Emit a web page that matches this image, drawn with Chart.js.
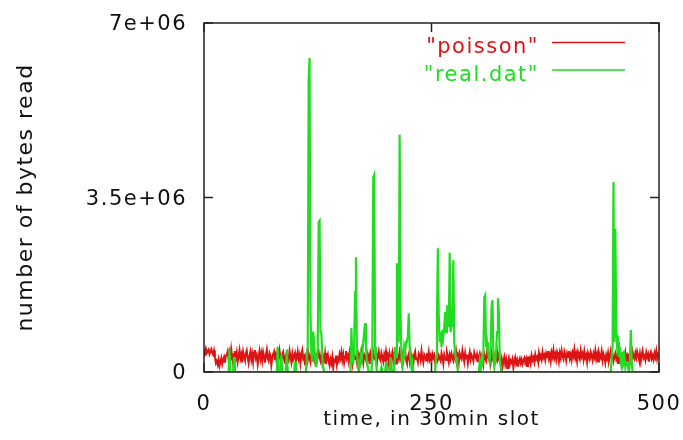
<!DOCTYPE html>
<html>
<head>
<meta charset="utf-8">
<script src="https://cdn.jsdelivr.net/npm/chart.js@4/dist/chart.umd.min.js"></script>
<style>
  html, body { margin: 0; padding: 0; background: #fff; }
</style>
</head>
<body>
<canvas id="chart" width="683" height="440"></canvas>
<script>
// x ticks (time slots) and y ticks (bytes)
const xTicks = [0, 250, 500];
const yTicks = [0, 3.5e6, 7e6];

// "poisson": one value per 30min slot, 0..500
const poissonBytes = [
  44e4,40e4,47e4,38e4,42e4,45e4,36e4,41e4,46e4,39e4,35e4,43e4,30e4,18e4,22e4,15e4,25e4,12e4,20e4,28e4,16e4,24e4,30e4,19e4,33e4,
  34e4,41e4,26e4,38e4,22e4,45e4,31e4,17e4,36e4,42e4,28e4,39e4,21e4,33e4,44e4,27e4,35e4,19e4,40e4,30e4,24e4,37e4,43e4,29e4,18e4,
  32e4,41e4,25e4,36e4,20e4,39e4,44e4,28e4,34e4,16e4,30e4,42e4,26e4,37e4,23e4,40e4,31e4,19e4,35e4,45e4,27e4,22e4,38e4,33e4,14e4,
  29e4,36e4,41e4,24e4,33e4,18e4,38e4,27e4,43e4,30e4,21e4,35e4,40e4,26e4,17e4,34e4,39e4,28e4,23e4,42e4,31e4,20e4,37e4,25e4,32e4,
  38e4,22e4,29e4,41e4,26e4,34e4,18e4,36e4,44e4,27e4,31e4,15e4,33e4,40e4,24e4,37e4,29e4,20e4,35e4,42e4,26e4,30e4,17e4,38e4,23e4,
  34e4,41e4,28e4,22e4,36e4,19e4,31e4,25e4,38e4,16e4,29e4,35e4,21e4,13e4,26e4,18e4,30e4,9e4,24e4,20e4,33e4,15e4,27e4,22e4,36e4,
  28e4,40e4,24e4,35e4,19e4,31e4,42e4,27e4,33e4,21e4,38e4,25e4,30e4,17e4,36e4,43e4,26e4,32e4,20e4,39e4,28e4,34e4,23e4,41e4,29e4,
  18e4,35e4,30e4,24e4,39e4,27e4,33e4,16e4,37e4,29e4,22e4,40e4,31e4,25e4,36e4,19e4,34e4,42e4,27e4,23e4,38e4,30e4,21e4,35e4,26e4,
  41e4,28e4,33e4,19e4,36e4,24e4,30e4,39e4,22e4,34e4,27e4,17e4,37e4,31e4,25e4,40e4,29e4,20e4,35e4,26e4,32e4,43e4,24e4,18e4,30e4,
  36e4,22e4,39e4,27e4,31e4,15e4,34e4,41e4,26e4,29e4,20e4,37e4,33e4,24e4,42e4,28e4,19e4,35e4,31e4,23e4,38e4,27e4,40e4,25e4,32e4,
  21e4,36e4,29e4,34e4,18e4,31e4,40e4,25e4,33e4,27e4,22e4,38e4,30e4,17e4,35e4,28e4,24e4,39e4,31e4,20e4,34e4,26e4,37e4,29e4,23e4,
  36e4,28e4,41e4,24e4,32e4,19e4,37e4,30e4,26e4,43e4,33e4,21e4,38e4,27e4,35e4,18e4,31e4,40e4,25e4,34e4,29e4,22e4,39e4,32e4,27e4,
  35e4,20e4,30e4,37e4,24e4,33e4,28e4,16e4,36e4,29e4,23e4,40e4,31e4,26e4,34e4,19e4,38e4,27e4,32e4,22e4,35e4,28e4,41e4,25e4,30e4,
  24e4,18e4,27e4,10e4,22e4,30e4,16e4,25e4,8e4,20e4,28e4,15e4,23e4,19e4,26e4,9e4,21e4,29e4,17e4,24e4,11e4,22e4,27e4,18e4,25e4,
  16e4,23e4,28e4,19e4,26e4,12e4,31e4,21e4,27e4,17e4,33e4,24e4,29e4,20e4,35e4,26e4,30e4,22e4,38e4,27e4,33e4,25e4,40e4,29e4,34e4,
  24e4,37e4,30e4,42e4,27e4,35e4,22e4,39e4,31e4,44e4,28e4,36e4,25e4,40e4,33e4,21e4,38e4,29e4,43e4,32e4,26e4,41e4,34e4,23e4,37e4,
  30e4,42e4,27e4,35e4,24e4,39e4,32e4,45e4,28e4,36e4,22e4,40e4,33e4,26e4,43e4,31e4,37e4,25e4,41e4,29e4,34e4,20e4,38e4,31e4,27e4,
  40e4,33e4,24e4,37e4,30e4,43e4,26e4,35e4,21e4,39e4,32e4,28e4,41e4,24e4,36e4,30e4,19e4,34e4,27e4,38e4,23e4,31e4,42e4,29e4,35e4,
  22e4,30e4,37e4,26e4,33e4,18e4,29e4,36e4,24e4,31e4,20e4,34e4,27e4,39e4,25e4,32e4,21e4,37e4,28e4,35e4,24e4,40e4,30e4,26e4,38e4,
  29e4,41e4,33e4,25e4,37e4,22e4,35e4,43e4,28e4,32e4,24e4,39e4,30e4,36e4,21e4,34e4,40e4,27e4,33e4,25e4,38e4,30e4,42e4,26e4,35e4,31e4
];

// "real.dat": read slots (zero between bursts)
const realSlots = [
  0, 27, 28, 29, 32, 33, 34, 80, 81, 82, 84, 85, 86, 90, 91, 92, 99, 100, 101,
  112, 113, 114, 115, 116, 117, 118, 119, 120, 121, 122, 123, 124, 125, 126, 127, 128, 129, 130, 131, 132,
  161, 162, 163, 164, 165, 166, 167, 168, 169, 170, 171, 172, 173, 174, 175, 176, 177, 178, 179, 180, 181,
  184, 185, 186, 187, 188, 189, 190, 194, 195, 196, 199, 200, 201, 204, 205, 206, 207,
  209, 210, 211, 212, 213, 214, 215, 216, 217, 218, 219, 220, 221, 222, 223, 224, 225, 226, 227, 228, 229, 230,
  254, 255, 256, 257, 258, 259, 260, 261, 262, 263, 264, 265, 266, 267, 268, 269, 270, 271, 272, 273, 274, 275, 276, 277, 278, 279,
  302, 303, 304, 305, 306, 307, 308, 309, 310, 311, 312, 313, 314, 315, 316, 317, 318, 319, 320, 321, 322, 323, 324, 325, 326, 327,
  447, 448, 449, 450, 451, 452, 453, 454, 455, 456, 457, 458, 459, 460, 461, 462, 463, 464, 465, 466, 467, 468, 469, 470, 471,
  500
];
const realBytes = [
  0, 0, 45e4, 0, 0, 30e4, 0, 0, 50e4, 0, 0, 35e4, 0, 0, 45e4, 0, 0, 20e4, 0,
  0, 30e4, 50e4, 585e4, 630e4, 120e4, 40e4, 20e4, 81e4, 60e4, 30e4, 10e4, 20e4, 50e4, 300e4, 303e4, 80e4, 78e4, 30e4, 10e4, 0,
  0, 88e4, 30e4, 15e4, 50e4, 160e4, 230e4, 40e4, 20e4, 0, 10e4, 30e4, 15e4, 40e4, 60e4, 80e4, 98e4, 50e4, 20e4, 10e4, 0,
  0, 40e4, 390e4, 395e4, 50e4, 20e4, 0, 0, 10e4, 0, 0, 20e4, 0, 0, 30e4, 10e4, 0,
  0, 50e4, 30e4, 218e4, 100e4, 60e4, 476e4, 120e4, 30e4, 10e4, 20e4, 50e4, 40e4, 60e4, 64e4, 70e4, 118e4, 50e4, 30e4, 10e4, 20e4, 0,
  0, 30e4, 110e4, 248e4, 108e4, 60e4, 80e4, 50e4, 84e4, 70e4, 90e4, 120e4, 80e4, 134e4, 100e4, 90e4, 239e4, 80e4, 90e4, 100e4, 224e4, 60e4, 40e4, 20e4, 30e4, 0,
  0, 20e4, 5e4, 24e4, 10e4, 40e4, 150e4, 154e4, 50e4, 60e4, 40e4, 30e4, 20e4, 50e4, 130e4, 144e4, 30e4, 10e4, 20e4, 40e4, 80e4, 148e4, 120e4, 30e4, 10e4, 0,
  0, 30e4, 50e4, 381e4, 60e4, 288e4, 90e4, 50e4, 60e4, 30e4, 50e4, 20e4, 10e4, 40e4, 20e4, 30e4, 10e4, 20e4, 20e4, 10e4, 0, 20e4, 84e4, 20e4, 0,
  0
];

const RED = '#dd1414';
const GREEN = '#22dc22';
const FONT = 'DejaVu Sans';

function sciLabel(v) {
  if (v === 0) return '0';
  const [m, e] = v.toExponential().split('e');
  return m + 'e' + e[0] + e.slice(1).padStart(2, '0');
}

// labels may hang outside the box, the layout padding decides the plot area
function noEdgePadding(s) {
  s.paddingLeft = 0;
  s.paddingRight = 0;
  s.paddingTop = 0;
  s.paddingBottom = 0;
}

// gnuplot glyphs are wide, so space the letters out a bit
const spacing = {
  id: 'spacing',
  beforeUpdate(chart) { chart.ctx.letterSpacing = '1.5px'; },
  beforeDraw(chart) { chart.ctx.letterSpacing = '1.5px'; }
};

// box round the plot with inward ticks
const frame = {
  id: 'frame',
  afterDatasetsDraw(chart) {
    const { ctx, chartArea: a, scales } = chart;
    ctx.save();
    ctx.strokeStyle = '#222';
    ctx.lineWidth = 1.5;
    ctx.strokeRect(a.left, a.top, a.right - a.left, a.bottom - a.top);
    ctx.beginPath();
    xTicks.forEach(v => {
      const x = scales.x.getPixelForValue(v);
      ctx.moveTo(x, a.bottom); ctx.lineTo(x, a.bottom - 9);
      ctx.moveTo(x, a.top); ctx.lineTo(x, a.top + 9);
    });
    yTicks.forEach(v => {
      const y = scales.y.getPixelForValue(v);
      ctx.moveTo(a.left, y); ctx.lineTo(a.left + 9, y);
      ctx.moveTo(a.right, y); ctx.lineTo(a.right - 9, y);
    });
    ctx.stroke();
    ctx.restore();
  }
};

// key in the top right: text then line sample
const key = {
  id: 'key',
  afterDraw(chart) {
    const ctx = chart.ctx;
    ctx.save();
    ctx.font = '21px "' + FONT + '"';
    ctx.textAlign = 'right';
    ctx.textBaseline = 'alphabetic';
    chart.data.datasets.forEach((ds, i) => {
      const y = 53 + i * 27.5;
      ctx.fillStyle = ds.borderColor;
      ctx.fillText('"' + ds.label + '"', 539, y);
      ctx.strokeStyle = ds.borderColor;
      ctx.lineWidth = 1.5;
      ctx.beginPath();
      ctx.moveTo(552, y - 10.5);
      ctx.lineTo(625, y - 10.5);
      ctx.stroke();
    });
    ctx.restore();
  }
};

new Chart(document.getElementById('chart'), {
  type: 'line',
  data: {
    datasets: [
      {
        label: 'poisson',
        data: poissonBytes.map((v, i) => ({ x: i, y: v })),
        borderColor: RED,
        borderWidth: 2,
        order: 2
      },
      {
        label: 'real.dat',
        data: realSlots.map((t, i) => ({ x: t, y: realBytes[i] })),
        borderColor: GREEN,
        borderWidth: 2.2,
        order: 1
      }
    ]
  },
  options: {
    responsive: false,
    animation: false,
    events: [],
    elements: { point: { radius: 0 }, line: { tension: 0 } },
    layout: { padding: { top: 23, right: 24, bottom: 0, left: 0 } },
    plugins: { legend: { display: false }, tooltip: { enabled: false } },
    scales: {
      x: {
        type: 'linear',
        min: 0,
        max: 500,
        afterBuildTicks: s => { s.ticks = xTicks.map(v => ({ value: v })); },
        afterFit: s => { s.height = 68; noEdgePadding(s); },
        grid: { display: false, drawTicks: false },
        border: { display: false },
        ticks: { color: '#111', padding: 20, maxRotation: 0, font: { family: FONT, size: 21 } },
        title: {
          display: true,
          text: 'time, in 30min slot',
          color: '#111',
          font: { family: FONT, size: 20 },
          padding: { top: 0, bottom: 8 }
        }
      },
      y: {
        min: 0,
        max: 7e6,
        afterBuildTicks: s => { s.ticks = yTicks.map(v => ({ value: v })); },
        afterFit: s => { s.width = 204; noEdgePadding(s); },
        grid: { display: false, drawTicks: false },
        border: { display: false },
        ticks: {
          color: '#111',
          padding: 17,
          labelOffset: 2,
          font: { family: FONT, size: 21 },
          callback: v => sciLabel(v)
        },
        title: {
          display: true,
          text: 'number of bytes read',
          color: '#111',
          font: { family: FONT, size: 22 },
          padding: { top: 13, bottom: 0 }
        }
      }
    }
  },
  plugins: [spacing, frame, key]
});
</script>
</body>
</html>
